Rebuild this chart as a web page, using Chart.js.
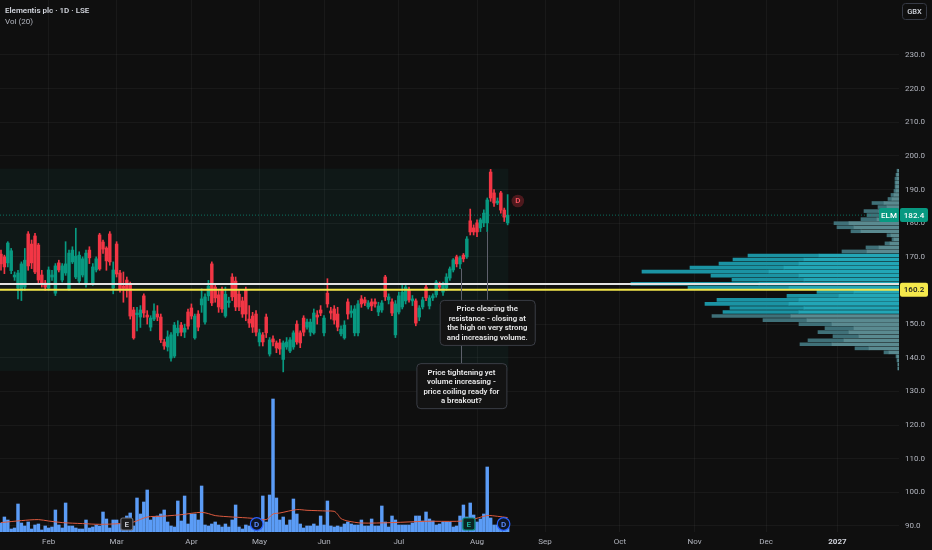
<!DOCTYPE html>
<html>
<head>
<meta charset="utf-8">
<title>Elementis plc · 1D · LSE</title>
<script src="https://cdn.jsdelivr.net/npm/chart.js@4.4.1/dist/chart.umd.min.js"></script>
<style>
  html, body { margin: 0; padding: 0; background: #0f0f0f; }
  #chart { display: block; }
</style>
</head>
<body>
<canvas id="chart" width="932" height="550"></canvas>
<script>
// x = trading-day index, 0 = 13 Jan 2026
const candleOpen = [
  170.8, 170.0, 168.2, 165.9, 164.0, 160.7, 160.0, 161.0, 176.8, 173.8,
  176.2, 173.5, 164.6, 162.2, 160.7, 164.0, 159.2, 168.2, 163.1, 165.2,
  160.4, 168.5, 164.0, 162.8, 164.6, 161.9, 172.0, 162.2, 166.1, 176.5,
  174.4, 172.6, 176.8, 160.7, 173.8, 165.2, 161.3, 163.1, 161.6, 154.2,
  152.8, 152.1, 158.4, 152.7, 149.1, 151.5, 153.0, 152.1, 144.7, 143.2,
  139.9, 140.5, 147.4, 149.7, 147.6, 153.6, 154.8, 145.9, 153.0, 155.7,
  150.6, 158.4, 167.9, 161.0, 158.7, 160.1, 152.4, 156.4, 164.0, 162.8,
  158.9, 156.9, 160.1, 151.5, 152.4, 153.0, 144.7, 146.8, 152.1, 141.1,
  145.6, 144.4, 144.4, 139.5, 143.2, 142.0, 143.2, 150.0, 147.4, 151.8,
  149.1, 147.6, 147.4, 152.7, 154.2, 147.4, 159.2, 153.9, 154.5, 153.0,
  147.1, 145.9, 156.6, 153.3, 147.4, 147.4, 157.5, 157.2, 155.1, 156.6,
  156.6, 153.6, 154.2, 164.0, 157.2, 156.6, 146.8, 153.6, 155.1, 156.9,
  160.1, 156.9, 156.9, 152.1, 155.1, 161.0, 155.4, 157.8, 158.7, 161.9,
  159.5, 160.7, 163.7, 166.1, 170.0, 167.9, 170.5, 170.0, 180.7, 178.6,
  180.1, 178.6, 180.1, 180.1, 195.2, 189.0, 186.0, 189.0, 183.9, 180.1
];
const candleHigh = [
  172.0, 170.5, 174.5, 172.5, 165.5, 166.0, 168.5, 172.5, 177.5, 175.0,
  177.0, 174.0, 166.0, 163.0, 167.0, 166.0, 168.0, 169.0, 168.0, 174.5,
  172.0, 173.0, 178.5, 171.5, 170.0, 172.0, 173.0, 168.0, 170.0, 177.0,
  175.0, 173.0, 177.5, 168.5, 174.5, 166.0, 165.5, 164.0, 162.5, 155.0,
  155.0, 155.5, 159.0, 154.0, 152.5, 156.0, 155.5, 153.0, 145.5, 148.0,
  147.5, 150.5, 151.0, 150.5, 150.0, 154.5, 156.0, 153.0, 154.0, 160.5,
  159.0, 163.0, 168.5, 162.0, 160.0, 161.0, 161.0, 158.0, 165.0, 164.0,
  160.0, 158.0, 161.0, 155.5, 153.5, 154.0, 148.5, 147.5, 153.0, 146.0,
  146.5, 145.0, 145.5, 145.0, 146.0, 146.0, 148.0, 151.0, 148.0, 152.5,
  151.5, 151.5, 154.5, 154.0, 155.5, 152.5, 163.5, 155.0, 155.5, 155.0,
  149.5, 151.0, 157.5, 155.5, 155.5, 157.0, 158.5, 158.0, 157.0, 157.5,
  157.5, 156.5, 157.0, 164.5, 159.0, 157.5, 157.0, 159.5, 161.5, 161.5,
  161.0, 158.5, 157.5, 155.5, 158.0, 162.0, 158.5, 159.0, 163.0, 162.5,
  162.5, 165.0, 167.0, 169.5, 170.5, 170.2, 171.0, 176.0, 184.2, 179.5,
  181.0, 181.5, 184.0, 187.5, 196.0, 190.0, 187.5, 189.5, 184.5, 188.5
];
const candleLow = [
  166.0, 165.0, 167.0, 165.0, 163.0, 157.5, 157.0, 160.0, 166.0, 166.5,
  165.0, 162.0, 161.0, 160.0, 160.0, 163.0, 158.5, 165.5, 162.5, 164.5,
  160.0, 168.0, 163.5, 162.0, 164.0, 161.0, 168.0, 161.5, 165.5, 166.0,
  171.0, 166.0, 167.5, 159.0, 164.0, 159.5, 156.5, 158.0, 151.5, 145.5,
  148.0, 149.0, 152.0, 150.0, 148.0, 151.0, 151.0, 144.5, 142.5, 142.0,
  139.0, 140.0, 146.5, 146.5, 146.0, 148.5, 151.5, 145.5, 148.0, 153.5,
  150.0, 157.0, 155.5, 156.5, 153.5, 153.5, 152.0, 155.0, 157.0, 154.0,
  154.0, 152.0, 151.0, 149.0, 147.5, 146.5, 143.5, 143.5, 146.0, 140.5,
  143.5, 141.5, 141.0, 135.8, 142.5, 141.5, 142.5, 144.0, 143.0, 146.5,
  148.5, 146.5, 147.0, 150.0, 152.5, 146.5, 155.0, 151.5, 150.0, 148.0,
  146.5, 145.5, 151.5, 152.0, 146.5, 146.5, 155.0, 155.5, 154.5, 154.0,
  155.0, 152.5, 153.5, 157.0, 156.0, 152.5, 146.0, 153.0, 154.5, 156.0,
  156.5, 155.5, 149.5, 151.0, 154.5, 157.0, 154.5, 157.0, 158.0, 160.0,
  158.5, 160.0, 163.0, 165.5, 167.0, 166.5, 168.5, 169.5, 176.5, 176.5,
  176.0, 177.5, 179.0, 177.5, 186.5, 185.0, 185.5, 183.0, 180.5, 179.5
];
const candleClose = [
  167.9, 167.0, 174.1, 171.8, 164.6, 165.2, 167.9, 169.0, 167.3, 168.2,
  165.5, 163.1, 161.9, 161.0, 166.1, 164.6, 167.3, 166.1, 167.3, 167.9,
  171.1, 172.0, 170.2, 170.5, 169.4, 171.1, 169.7, 167.0, 169.4, 166.4,
  172.3, 168.8, 168.5, 166.1, 164.9, 160.4, 160.6, 160.1, 152.4, 145.9,
  153.3, 154.2, 153.3, 152.1, 151.8, 153.9, 152.1, 145.3, 143.5, 146.2,
  146.8, 149.7, 148.8, 147.6, 148.8, 149.4, 152.4, 152.4, 149.1, 157.5,
  158.1, 161.3, 156.3, 157.8, 155.1, 154.5, 158.9, 156.9, 158.1, 155.1,
  155.1, 153.0, 153.0, 150.3, 149.1, 147.6, 147.4, 144.7, 147.4, 145.3,
  144.7, 142.9, 142.6, 144.4, 144.7, 145.3, 147.4, 144.7, 144.4, 147.6,
  150.6, 150.6, 153.3, 152.1, 153.3, 151.8, 156.0, 153.3, 151.2, 149.1,
  148.5, 149.7, 153.0, 153.9, 154.5, 156.0, 156.0, 156.3, 156.3, 155.4,
  156.0, 155.4, 156.3, 158.1, 158.1, 153.3, 156.0, 158.4, 159.5, 161.0,
  157.2, 157.5, 150.3, 154.8, 157.2, 157.8, 157.8, 158.4, 162.5, 161.0,
  161.6, 164.0, 166.4, 169.1, 167.9, 169.7, 169.4, 175.3, 177.4, 177.4,
  177.4, 181.0, 183.0, 186.9, 187.5, 186.0, 186.6, 183.9, 181.8, 182.4
];
// daily volume, thousand shares
const volumes = [
  450, 750, 600, 150, 200, 1400, 450, 300, 500, 150,
  350, 400, 100, 300, 200, 250, 1100, 350, 200, 1450,
  300, 300, 200, 150, 150, 600, 200, 250, 350, 300,
  1000, 650, 200, 600, 600, 400, 500, 800, 950, 300,
  1700, 900, 1500, 2100, 600, 750, 800, 900, 1100, 500,
  300, 250, 1550, 550, 1800, 400, 900, 900, 600, 2300,
  350, 300, 400, 500, 350, 250, 400, 250, 600, 1350,
  250, 150, 350, 300, 350, 400, 350, 1800, 500, 1850,
  6650, 1700, 600, 750, 350, 600, 1650, 900, 400, 200,
  300, 300, 400, 300, 800, 350, 1550, 300, 250, 300,
  250, 400, 500, 400, 350, 350, 600, 300, 300, 650,
  300, 300, 1300, 500, 250, 800, 600, 350, 350, 350,
  350, 450, 800, 800, 550, 1000, 650, 550, 350, 400,
  500, 500, 500, 250, 300, 800, 1350, 750, 1450, 850,
  500, 650, 900, 3250, 700, 350, 350, 300, 200, 200
];
// Vol (20) moving average
const volMaIdx = [0, 6, 11, 14, 18, 24, 29, 35, 39, 43, 47, 51, 54, 56, 59, 61, 63, 68, 71, 74, 78, 80, 82, 87, 90, 96, 98, 99, 100, 102, 106, 115, 125, 134, 138, 143, 146, 149];
const volMaValues = [470, 570, 620, 550, 470, 420, 385, 420, 500, 750, 785, 835, 885, 935, 985, 920, 820, 750, 720, 685, 620, 900, 950, 1120, 1085, 1050, 1035, 885, 670, 550, 450, 470, 535, 535, 600, 820, 785, 720];

const monthTicks = [14, 34, 56, 76, 95, 117, 140, 160, 182, 204, 225, 246];
const monthLabels = ['Feb', 'Mar', 'Apr', 'May', 'Jun', 'Jul', 'Aug', 'Sep', 'Oct', 'Nov', 'Dec', '2027'];
const priceTicks = [90, 100, 110, 120, 130, 140, 150, 160, 170, 180, 190, 200, 210, 220, 230];

// visible range volume profile, top row first
const profileLevels = [
  195.6, 194.4, 193.2, 192.0, 190.8, 189.6, 188.4, 187.2, 186.0, 184.8,
  183.6, 182.4, 181.2, 180.0, 178.8, 177.6, 176.4, 175.2, 174.0, 172.8,
  171.6, 170.4, 169.2, 168.0, 166.8, 165.6, 164.4, 163.2, 162.0, 160.8,
  159.6, 158.4, 157.2, 156.0, 154.8, 153.6, 152.4, 151.2, 150.0, 148.8,
  147.6, 146.4, 145.2, 144.0, 142.8, 141.6, 140.4, 139.2, 138.0, 136.8
];
const profileUp = [
  10, 20, 20, 30, 30, 30, 50, 70, 150, 120,
  200, 180, 220, 500, 450, 380, 80, 50, 90, 200,
  320, 800, 950, 1000, 1150, 1300, 1000, 950, 1400, 1100,
  450, 600, 1000, 1100, 950, 1000, 1080, 920, 670, 450,
  500, 400, 550, 670, 300, 100, 20, 10, 10, 10
];
const profileDown = [
  10, 10, 20, 10, 10, 20, 30, 40, 120, 90,
  150, 140, 160, 150, 170, 100, 40, 20, 50, 130,
  250, 710, 710, 800, 940, 1270, 880, 720, 1280, 1010,
  370, 520, 820, 840, 740, 760, 790, 440, 330, 290,
  310, 260, 360, 320, 140, 50, 10, 10, 0, 0
];
const valueAreaHigh = 171.0;
const valueAreaLow = 153.0;

const pocLevel = 161.9;
const levelLine = 160.2;
const rangeBox = { fromIdx: -0.5, toIdx: 149.2, top: 196.2, bottom: 136.1 };

const callouts = [
  { idx: 135.4, fromPrice: 166.5, boxTop: 138.4, width: 90,
    lines: ['Price tightening yet', 'volume increasing -', 'price coiling ready for', 'a breakout?'] },
  { idx: 143, fromPrice: 177.5, boxTop: 157.2, width: 95,
    lines: ['Price clearing the', 'resistance - closing at', 'the high on very strong', 'and increasing volume.'] }
];
const eventMarks = [
  { kind: 'E', idx: 37, style: 'grey' },
  { kind: 'D', idx: 75.2, style: 'blue' },
  { kind: 'E', idx: 137.6, style: 'teal' },
  { kind: 'D', idx: 147.8, style: 'blue' }
];
const upcomingDividend = { idx: 152, price: 186.6 };

const UP = '#089981';
const DOWN = '#f23645';
const FONT = 'Roboto, "Noto Sans", sans-serif';

const idx = candleOpen.map((_, i) => i);
const candleColor = idx.map(i => candleClose[i] >= candleOpen[i] ? UP : DOWN);
const inValueArea = p => p <= valueAreaHigh && p >= valueAreaLow;

function roundRect(ctx, x, y, w, h, r) {
  ctx.beginPath();
  ctx.moveTo(x + r, y);
  ctx.arcTo(x + w, y, x + w, y + h, r);
  ctx.arcTo(x + w, y + h, x, y + h, r);
  ctx.arcTo(x, y + h, x, y, r);
  ctx.arcTo(x, y, x + w, y, r);
  ctx.closePath();
}

function hLine(ctx, a, yPix, color, width, dash) {
  ctx.save();
  ctx.strokeStyle = color;
  ctx.lineWidth = width;
  ctx.setLineDash(dash || []);
  ctx.beginPath();
  ctx.moveTo(a.left, yPix);
  ctx.lineTo(a.right, yPix);
  ctx.stroke();
  ctx.restore();
}

function tag(ctx, x, yc, w, text, bg, fg) {
  ctx.fillStyle = bg;
  roundRect(ctx, x, yc - 7, w, 14, 2);
  ctx.fill();
  ctx.fillStyle = fg;
  ctx.font = '500 8px ' + FONT;
  ctx.textAlign = 'center';
  ctx.textBaseline = 'middle';
  ctx.fillText(text, x + w / 2, yc + 0.5);
}

function badge(ctx, cx, cy, mark) {
  const s = {
    grey: { stroke: '#6a6d78', fill: '#1c1c1c', text: '#c9ccd4' },
    teal: { stroke: '#0b8c7a', fill: '#0b2622', text: '#19b39c' },
    blue: { stroke: '#2962ff', fill: '#0f1626', text: '#5b8cff' }
  }[mark.style];
  ctx.save();
  ctx.lineWidth = 1.2;
  ctx.strokeStyle = s.stroke;
  ctx.fillStyle = s.fill;
  if (mark.kind === 'E') {
    roundRect(ctx, cx - 6, cy - 6, 12, 12, 2);
  } else {
    ctx.beginPath();
    ctx.arc(cx, cy, 6.3, 0, Math.PI * 2);
  }
  ctx.fill();
  ctx.stroke();
  ctx.fillStyle = s.text;
  ctx.font = '600 8px ' + FONT;
  ctx.textAlign = 'center';
  ctx.textBaseline = 'middle';
  ctx.fillText(mark.kind, cx, cy + 0.5);
  ctx.restore();
}

const overlay = {
  id: 'overlay',
  beforeDatasetsDraw(chart) {
    const { ctx, chartArea: a, scales: { x, y } } = chart;
    ctx.save();
    ctx.beginPath();
    ctx.rect(a.left, a.top, a.width, a.height);
    ctx.clip();
    const x0 = x.getPixelForValue(rangeBox.fromIdx);
    const x1 = x.getPixelForValue(rangeBox.toIdx);
    const y0 = y.getPixelForValue(rangeBox.top);
    const y1 = y.getPixelForValue(rangeBox.bottom);
    ctx.fillStyle = 'rgba(30, 150, 140, 0.07)';
    ctx.fillRect(x0, y0, x1 - x0, y1 - y0);
    ctx.restore();
  },
  afterDatasetsDraw(chart) {
    const { ctx, chartArea: a, scales: { x, y } } = chart;
    const last = candleClose[candleClose.length - 1];
    hLine(ctx, a, y.getPixelForValue(last), 'rgba(8, 153, 129, 0.7)', 1, [1, 2]);
    hLine(ctx, a, y.getPixelForValue(pocLevel), '#e3e3e3', 2);
    hLine(ctx, a, y.getPixelForValue(levelLine), '#f2e64a', 2);

    // callout connectors, then boxes
    ctx.save();
    ctx.strokeStyle = '#5d606b';
    ctx.lineWidth = 1;
    callouts.forEach(c => {
      const cx = Math.round(x.getPixelForValue(c.idx)) + 0.5;
      ctx.beginPath();
      ctx.moveTo(cx, y.getPixelForValue(c.fromPrice));
      ctx.lineTo(cx, y.getPixelForValue(c.boxTop));
      ctx.stroke();
    });
    callouts.forEach(c => {
      const cx = x.getPixelForValue(c.idx);
      const top = y.getPixelForValue(c.boxTop);
      const left = cx - c.width / 2;
      ctx.fillStyle = '#131313';
      ctx.strokeStyle = '#3b3e46';
      roundRect(ctx, left + 0.5, top + 0.5, c.width, 45, 4);
      ctx.fill();
      ctx.stroke();
      ctx.fillStyle = '#e9e9ea';
      ctx.font = '600 7.8px ' + FONT;
      ctx.textAlign = 'center';
      ctx.textBaseline = 'middle';
      c.lines.forEach((t, i) => ctx.fillText(t, cx, top + 9.5 + i * 9.5));
    });
    ctx.restore();
  },
  afterDraw(chart) {
    const { ctx, chartArea: a, scales: { x, y } } = chart;
    ctx.save();
    // title
    ctx.textAlign = 'left';
    ctx.textBaseline = 'middle';
    ctx.fillStyle = '#d1d4dc';
    ctx.font = '600 8px ' + FONT;
    ctx.fillText('Elementis plc · 1D · LSE', 5, 10.5);
    ctx.fillStyle = '#b2b5be';
    ctx.font = '8px ' + FONT;
    ctx.fillText('Vol (20)', 5, 22);

    // currency button
    ctx.strokeStyle = '#363a45';
    ctx.lineWidth = 1;
    roundRect(ctx, 902.5, 3.5, 24, 16, 3);
    ctx.stroke();
    ctx.fillStyle = '#d1d4dc';
    ctx.font = '500 7.5px ' + FONT;
    ctx.textAlign = 'center';
    ctx.fillText('GBX', 914.5, 12);

    // axis price tags
    const last = candleClose[candleClose.length - 1];
    const yl = y.getPixelForValue(last);
    tag(ctx, a.right - 20, yl, 20, 'ELM', UP, '#ffffff');
    tag(ctx, a.right + 1, yl, 28, last.toFixed(1), UP, '#ffffff');
    tag(ctx, a.right + 1, y.getPixelForValue(levelLine), 28, levelLine.toFixed(1), '#f5e94c', '#131722');

    // event markers
    eventMarks.forEach(m => badge(ctx, x.getPixelForValue(m.idx), a.bottom - 8, m));
    const dx = x.getPixelForValue(upcomingDividend.idx);
    const dy = y.getPixelForValue(upcomingDividend.price);
    ctx.fillStyle = 'rgba(242, 54, 69, 0.28)';
    ctx.beginPath();
    ctx.arc(dx, dy, 6.3, 0, Math.PI * 2);
    ctx.fill();
    ctx.fillStyle = '#f7525f';
    ctx.font = '600 8px ' + FONT;
    ctx.textAlign = 'center';
    ctx.textBaseline = 'middle';
    ctx.fillText('D', dx, dy + 0.5);
    ctx.restore();
  }
};

const gridColor = 'rgba(255, 255, 255, 0.045)';

new Chart(document.getElementById('chart'), {
  type: 'bar',
  data: {
    datasets: [
      {
        label: 'Body',
        data: idx.map(i => ({ x: i, y: [candleOpen[i], candleClose[i]] })),
        backgroundColor: candleColor,
        barThickness: 2.8,
        minBarLength: 1,
        grouped: false,
        xAxisID: 'x', yAxisID: 'y',
        order: 1
      },
      {
        label: 'Wick',
        data: idx.map(i => ({ x: i, y: [candleLow[i], candleHigh[i]] })),
        backgroundColor: candleColor,
        barThickness: 1,
        grouped: false,
        xAxisID: 'x', yAxisID: 'y',
        order: 2
      },
      {
        type: 'line',
        label: 'Vol MA',
        data: volMaIdx.map((v, i) => ({ x: v, y: volMaValues[i] })),
        borderColor: '#dc5a3f',
        borderWidth: 1,
        pointRadius: 0,
        tension: 0.3,
        xAxisID: 'x', yAxisID: 'yv',
        order: 3
      },
      {
        label: 'Volume',
        data: idx.map(i => ({ x: i, y: volumes[i] })),
        backgroundColor: '#5b9cf6',
        barThickness: 2.8,
        grouped: false,
        xAxisID: 'x', yAxisID: 'yv',
        order: 4
      },
      {
        label: 'Profile up',
        indexAxis: 'y',
        data: profileLevels.map((p, i) => ({ y: p, x: [0, profileUp[i]] })),
        backgroundColor: profileLevels.map(p => inValueArea(p) ? '#22a6b6' : '#5a8a90'),
        barThickness: 3,
        grouped: false,
        xAxisID: 'xp', yAxisID: 'y',
        order: 5
      },
      {
        label: 'Profile down',
        indexAxis: 'y',
        data: profileLevels.map((p, i) => ({ y: p, x: [profileUp[i], profileUp[i] + profileDown[i]] })),
        backgroundColor: profileLevels.map(p => inValueArea(p) ? '#1b93a3' : '#3f7078'),
        barThickness: 3,
        grouped: false,
        xAxisID: 'xp', yAxisID: 'y',
        order: 6
      }
    ]
  },
  options: {
    responsive: false,
    animation: false,
    events: [],
    layout: { padding: 0 },
    plugins: { legend: { display: false }, tooltip: { enabled: false } },
    scales: {
      x: {
        type: 'linear',
        position: 'bottom',
        min: -0.294,
        max: 264.1,
        bounds: 'data',
        offset: false,
        grid: { color: gridColor, drawTicks: false, offset: false },
        border: { display: false },
        afterBuildTicks: s => { s.ticks = monthTicks.map(v => ({ value: v })); },
        afterFit: s => { s.height = 18; s.paddingLeft = 0; s.paddingRight = 0; },
        ticks: {
          autoSkip: false,
          maxRotation: 0,
          padding: 5,
          color: ctx => ctx.tick && ctx.tick.value === 246 ? '#d1d4dc' : '#b2b5be',
          font: ctx => ({ family: FONT, size: 8, weight: ctx.tick && ctx.tick.value === 246 ? 'bold' : 'normal' }),
          callback: (v, i) => monthLabels[i]
        }
      },
      y: {
        type: 'linear',
        position: 'right',
        min: 88.2,
        max: 246.35,
        bounds: 'data',
        offset: false,
        beginAtZero: false,
        grid: { color: gridColor, drawTicks: false, offset: false },
        border: { display: false },
        afterBuildTicks: s => { s.ticks = priceTicks.map(v => ({ value: v })); },
        afterFit: s => { s.width = 33; s.paddingTop = 0; s.paddingBottom = 0; },
        ticks: {
          padding: 6,
          color: '#b2b5be',
          font: { family: FONT, size: 8 },
          callback: v => v.toFixed(1)
        }
      },
      yv: {
        type: 'linear',
        display: false,
        offset: false,
        min: 0,
        max: 26600,
        bounds: 'data'
      },
      xp: {
        type: 'linear',
        display: false,
        offset: false,
        reverse: true,
        min: 0,
        max: 8990,
        bounds: 'data'
      }
    }
  },
  plugins: [overlay]
});
</script>
</body>
</html>
